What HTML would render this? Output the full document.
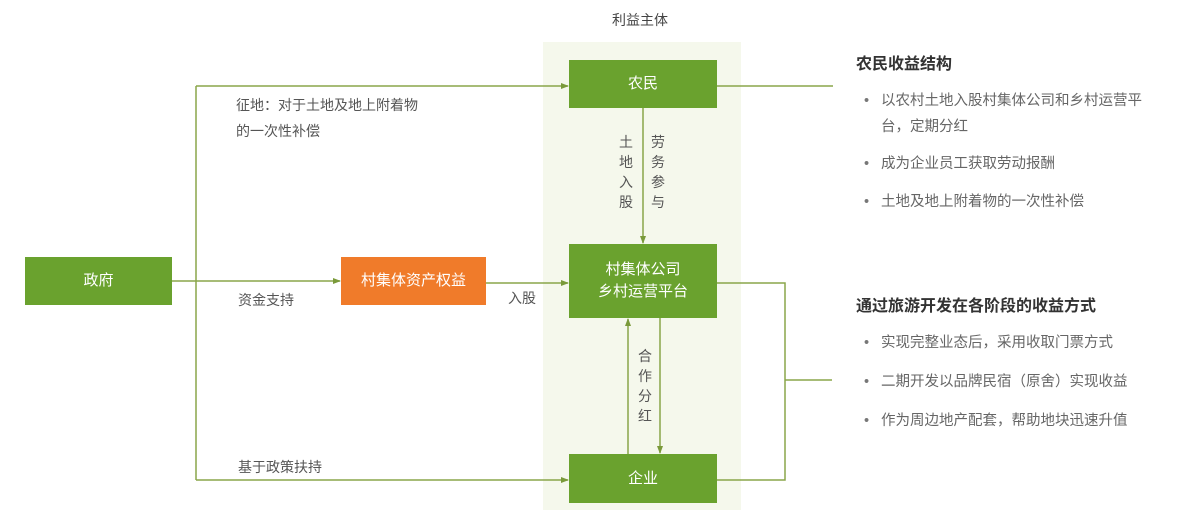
<!DOCTYPE html>
<html><head><meta charset="utf-8"><style>
body{margin:0;width:1200px;height:518px;background:#fff;position:relative;overflow:hidden;font-family:"Liberation Sans","Noto Sans CJK SC",sans-serif;}
.a{position:absolute;}
.box{position:absolute;background:#6aa22e;color:#fff;font-size:15px;display:flex;align-items:center;justify-content:center;text-align:center;line-height:22px;}
.t{position:absolute;color:#555;font-size:14px;line-height:24px;white-space:nowrap;}
.v{position:absolute;color:#555;font-size:14px;line-height:20px;width:16px;text-align:center;}
.h{position:absolute;color:#333;font-size:16px;font-weight:bold;}
.b{position:absolute;color:#666;font-size:14.5px;line-height:26px;white-space:nowrap;}
.b:before{content:"•";position:absolute;left:-17px;color:#777;}
</style></head><body>
<div class="a" style="left:543px;top:42px;width:198px;height:468px;background:#f5f8ec"></div>
<svg class="a" style="left:0;top:0" width="1200" height="518">
<defs><marker id="m" markerWidth="8" markerHeight="8" refX="7" refY="4" orient="auto" markerUnits="userSpaceOnUse"><path d="M0,1 L8,4 L0,7z" fill="#7a9a3a"/></marker></defs>
<g stroke="#8aa54a" stroke-width="1.5" fill="none">
<path d="M172,281 H196"/><path d="M196,86 V480"/>
<path d="M196,86 H568" marker-end="url(#m)"/>
<path d="M196,281 H340" marker-end="url(#m)"/>
<path d="M196,480 H568" marker-end="url(#m)"/>
<path d="M486,283 H568" marker-end="url(#m)"/>
<path d="M643,108 V243" marker-end="url(#m)"/>
<path d="M628,454 V319" marker-end="url(#m)"/>
<path d="M660,318 V453" marker-end="url(#m)"/>
<path d="M717,86 H833"/>
<path d="M717,283 H785 V480 H717"/>
<path d="M785,380 H832"/>
</g></svg>
<div class="t" style="left:612px;top:8px;color:#444">利益主体</div>
<div class="box" style="left:569px;top:60px;width:148px;height:48px">农民</div>
<div class="box" style="left:569px;top:244px;width:148px;height:74px">村集体公司<br>乡村运营平台</div>
<div class="box" style="left:569px;top:454px;width:148px;height:49px">企业</div>
<div class="box" style="left:25px;top:257px;width:147px;height:48px">政府</div>
<div class="box" style="left:341px;top:257px;width:145px;height:48px;background:#f07b2a">村集体资产权益</div>
<div class="t" style="left:236px;top:92px;line-height:26px">征地：对于土地及地上附着物<br>的一次性补偿</div>
<div class="t" style="left:238px;top:288px">资金支持</div>
<div class="t" style="left:508px;top:286px">入股</div>
<div class="t" style="left:238px;top:455px">基于政策扶持</div>
<div class="v" style="left:618px;top:132px">土<br>地<br>入<br>股</div>
<div class="v" style="left:650px;top:132px">劳<br>务<br>参<br>与</div>
<div class="v" style="left:637px;top:346px">合<br>作<br>分<br>红</div>
<div class="h" style="left:856px;top:50px">农民收益结构</div>
<div class="b" style="left:881px;top:88px">以农村土地入股村集体公司和乡村运营平<br>台，定期分红</div>
<div class="b" style="left:881px;top:151px">成为企业员工获取劳动报酬</div>
<div class="b" style="left:881px;top:189px">土地及地上附着物的一次性补偿</div>
<div class="h" style="left:856px;top:292px">通过旅游开发在各阶段的收益方式</div>
<div class="b" style="left:881px;top:330px">实现完整业态后，采用收取门票方式</div>
<div class="b" style="left:881px;top:369px">二期开发以品牌民宿（原舍）实现收益</div>
<div class="b" style="left:881px;top:408px">作为周边地产配套，帮助地块迅速升值</div>
</body></html>
